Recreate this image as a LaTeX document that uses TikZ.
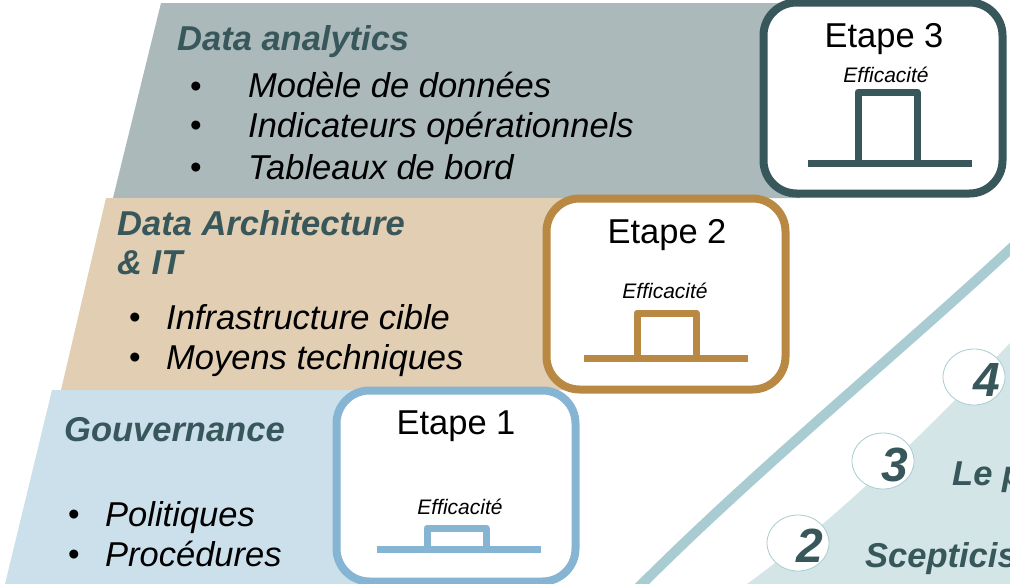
\documentclass[tikz,border=0pt]{standalone}
\usepackage{fontspec}
\setmainfont{Liberation Sans}
\usetikzlibrary{shapes.geometric}
\definecolor{tealdark}{HTML}{37575B}
\definecolor{tealband}{HTML}{A8CCD1}
\definecolor{teallight}{HTML}{D4E5E8}
\definecolor{greyzone}{HTML}{ABB9BA}
\definecolor{tanzone}{HTML}{E2CEB3}
\definecolor{tanline}{HTML}{B98842}
\definecolor{bluezone}{HTML}{CCE0EB}
\definecolor{blueline}{HTML}{85B5D2}
\tikzset{etape box/.style={draw,line width=8pt,fill=white,rounded corners=33pt,minimum width=239pt,minimum height=191pt,inner sep=0pt}}
\tikzset{zone title/.style={anchor=base west,inner sep=0pt,color=tealdark,font=\fontsize{34.5}{34.5}\selectfont\bfseries\itshape}}
\tikzset{zone item/.style={anchor=base west,inner sep=0pt,font=\fontsize{34.5}{34.5}\selectfont\itshape}}
\tikzset{zone bullet/.style={anchor=base,inner sep=0pt,font=\fontsize{33}{33}\selectfont}}
\tikzset{etape title/.style={anchor=base,inner sep=0pt,font=\fontsize{34.5}{34.5}\selectfont}}
\tikzset{etape small/.style={anchor=base,inner sep=0pt,font=\fontsize{21}{21}\selectfont\itshape}}
\tikzset{step circle/.style={ellipse,draw=tealband,line width=0.8pt,fill=white,minimum width=62pt,minimum height=56pt,inner sep=0pt}}
\tikzset{step num/.style={anchor=base,inner sep=0pt,color=tealdark,font=\fontsize{48}{48}\selectfont\bfseries\itshape}}
\tikzset{pulse/.style={line width=7pt,line join=round}}
\begin{document}
\begin{tikzpicture}[x=1pt,y=-1pt]
        \useasboundingbox (0,0) rectangle (1010,584);
        \clip (0,0) rectangle (1010,584);

        % zones
        \fill [greyzone] (113,198) -- (161,3) -- (800,3) -- (800,198) -- cycle;
        \fill [tanzone] (61,390) -- (106,198) -- (600,198) -- (600,390) -- cycle;
        \fill [bluezone] (52,390) -- (5,584) -- (400,584) -- (400,390) -- cycle;

        % right side
        \fill [teallight] (747,584) .. controls (835,520) and (925,433) .. (1010,343) -- (1010,584) -- cycle;
        \draw [tealband,line width=10pt] (632,594) .. controls (755,470) and (900,352) .. (1020,240);

        \node (c4) [step circle] at (974,377) {};
        \node (c3) [step circle] at (883,461) {};
        \node (c2) [step circle] at (798,543) {};
        \node [step num] at (987,396) {4};
        \node [step num] at (895,481) {3};
        \node [step num] at (810,562) {2};
        \node [zone title] at (952,485) {Le p};
        \node [zone title] at (865,567) {Scepticis};

        % boxes
        \node (e3) [etape box,draw=tealdark] at (883,98) {};
        \node (e2) [etape box,draw=tanline] at (666,294) {};
        \node (e1) [etape box,draw=blueline] at (456,486) {};

        \node [etape title] at (884,47) {Etape 3};
        \node [etape title] at (667,243) {Etape 2};
        \node [etape title] at (456,434) {Etape 1};
        \node [etape small] at (886,82) {Efficacité};
        \node [etape small] at (665,298) {Efficacité};
        \node [etape small] at (460,514) {Efficacité};

        \draw [pulse,tealdark] (808,163) -- (972,163) (858,163) -- (858,92) -- (917,92) -- (917,163);
        \draw [pulse,tanline] (584,358) -- (748,358) (637,358) -- (637,313) -- (696,313) -- (696,358);
        \draw [pulse,blueline] (377,549) -- (541,549) (427,549) -- (427,528) -- (486,528) -- (486,549);

        % texts
        \node [zone title] at (177,50) {Data analytics};
        \node [zone bullet] at (196,97) {•};
        \node [zone bullet] at (196,136) {•};
        \node [zone bullet] at (196,178) {•};
        \node [zone item] at (248,97) {Modèle de données};
        \node [zone item] at (248,137) {Indicateurs opérationnels};
        \node [zone item] at (248,179) {Tableaux de bord};

        \node [zone title] at (117,235) {Data Architecture};
        \node [zone title] at (117,274) {\& IT};
        \node [zone bullet] at (135,328) {•};
        \node [zone bullet] at (135,368) {•};
        \node [zone item] at (166,329) {Infrastructure cible};
        \node [zone item] at (166,369) {Moyens techniques};

        \node [zone title] at (64,441) {Gouvernance};
        \node [zone bullet] at (74,525) {•};
        \node [zone bullet] at (74,565) {•};
        \node [zone item] at (105,526) {Politiques};
        \node [zone item] at (105,566) {Procédures};
\end{tikzpicture}
\end{document}
